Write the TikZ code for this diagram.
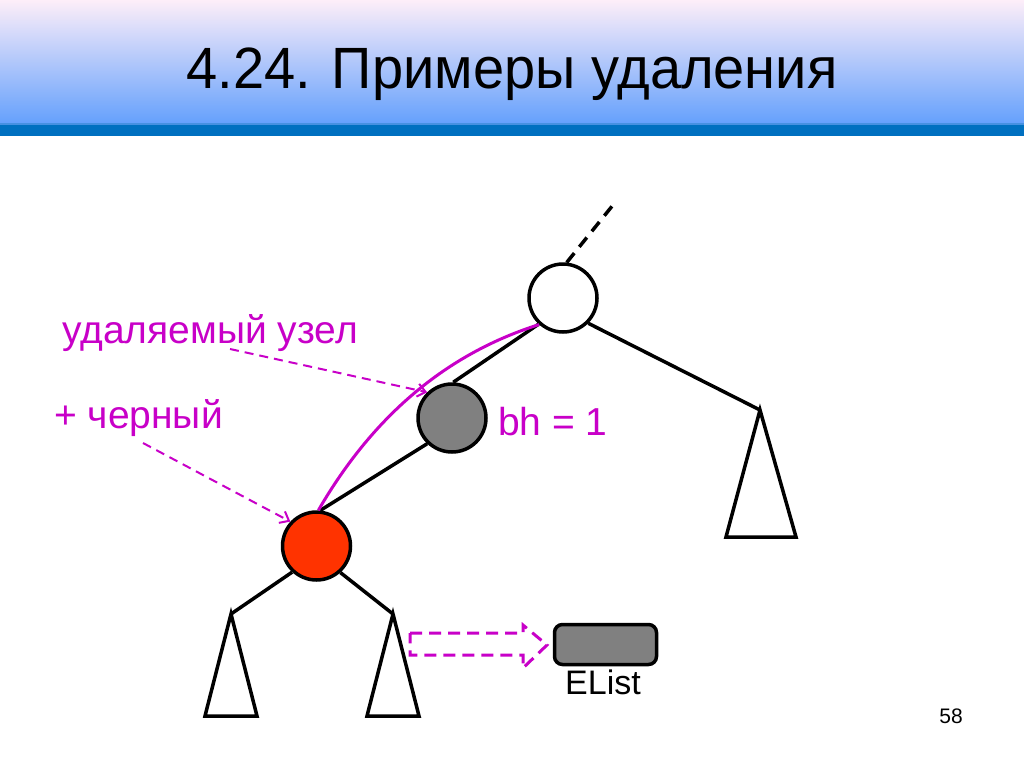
\documentclass[tikz,border=0pt]{standalone}
\usepackage{fontspec}
\setmainfont{Liberation Sans}
\usetikzlibrary{arrows.meta}
\definecolor{mag}{RGB}{200,0,200}
\definecolor{nodered}{RGB}{255,51,0}
\definecolor{nodegray}{RGB}{128,128,128}
\definecolor{band}{RGB}{0,112,192}
\definecolor{hdtop}{RGB}{253,238,249}
\definecolor{hdmid}{RGB}{185,208,242}
\definecolor{hdbot}{RGB}{100,160,252}
\tikzset{
  tnode/.style={circle,draw=black,line width=3.5pt,minimum size=68pt,inner sep=0pt},
  edge/.style={line width=3.5pt,black},
  tri/.style={line width=3.5pt,black,line join=miter},
  lbl/.style={text=mag,font=\fontsize{39}{42}\selectfont,inner sep=0pt},
  ptr/.style={mag,line width=2pt,dash pattern=on 9pt off 6pt,-{Straight Barb[length=8pt,width=13pt]}},
}
\begin{document}
\begin{tikzpicture}[x=1pt,y=-1pt]
\useasboundingbox (0,0) rectangle (1024,768);
\fill[white] (0,0) rectangle (1024,768);
% header
\shade[top color=hdtop,middle color=hdmid,bottom color=hdbot] (0,0) rectangle (1024,124);
\fill[band] (0,124) rectangle (1024,136);
\fill[color={rgb,255:red,70;green,145;blue,225}] (0,122.5) rectangle (1024,124.5);
\node[anchor=base,inner sep=0pt,font=\fontsize{56}{60}\selectfont] (title) at (512,88) {\scalebox{1}[1.04]{4.24. Примеры удаления}};
% nodes
\node[tnode,fill=white] (w) at (563,298) {};
\node[tnode,fill=nodegray] (g) at (452,418) {};
\node[tnode,fill=nodered] (r) at (316.5,546) {};
\coordinate (up) at (613,205);
\coordinate (ra) at (760,410);
\coordinate (la) at (231,614);
\coordinate (ma) at (393,614);
% edges
\draw[edge,dash pattern=on 12pt off 8pt] (w.84) -- (up);
\draw[edge] (w.227) -- (g.88);
\draw[edge] (g.226) -- (r.84);
\draw[edge] (w.-45) -- (ra);
\draw[edge] (r.227) -- (la);
\draw[edge] (r.312) -- (ma);
% subtrees
\draw[tri] (ra) -- (796,537) -- (726,537) -- cycle;
\draw[tri] (la) -- (257,716) -- (205,716) -- cycle;
\draw[tri] (ma) -- (419,716) -- (367,716) -- cycle;
% magenta arc
\draw[mag,line width=3pt] (r.87) .. controls (372.7,416.3) and (446,354) .. (w.228);
% labels
\node[lbl,anchor=base west] (l1) at (62,343) {удаляемый узел};
\node[lbl,anchor=base west] (l2) at (54,428) {+ черный};
\node[lbl,anchor=base west] (l3) at (498,435) {bh = 1};
\coordinate (p1) at (230,349);
\coordinate (p2) at (143,443);
\draw[ptr] (p1) -- (g.134);
\draw[ptr] (p2) -- (r.137);
% block arrow
\draw[mag,line width=3pt,dash pattern=on 12pt off 7pt,line join=miter]
  (410,633) -- (523,633) -- (523,625) -- (547,645) -- (523,668) -- (523,655) -- (410,655) -- cycle;
% EList
\node[draw=black,line width=3.5pt,fill=nodegray,rounded corners=8pt,minimum width=102pt,minimum height=40pt,inner sep=0pt] (el) at (605.5,644.5) {};
\node[anchor=base,inner sep=0pt,font=\fontsize{34}{38}\selectfont] (elt) at (603,694) {EList};
\node[anchor=base,inner sep=0pt,font=\fontsize{21}{24}\selectfont] (pg) at (951,723) {58};
\end{tikzpicture}
\end{document}
